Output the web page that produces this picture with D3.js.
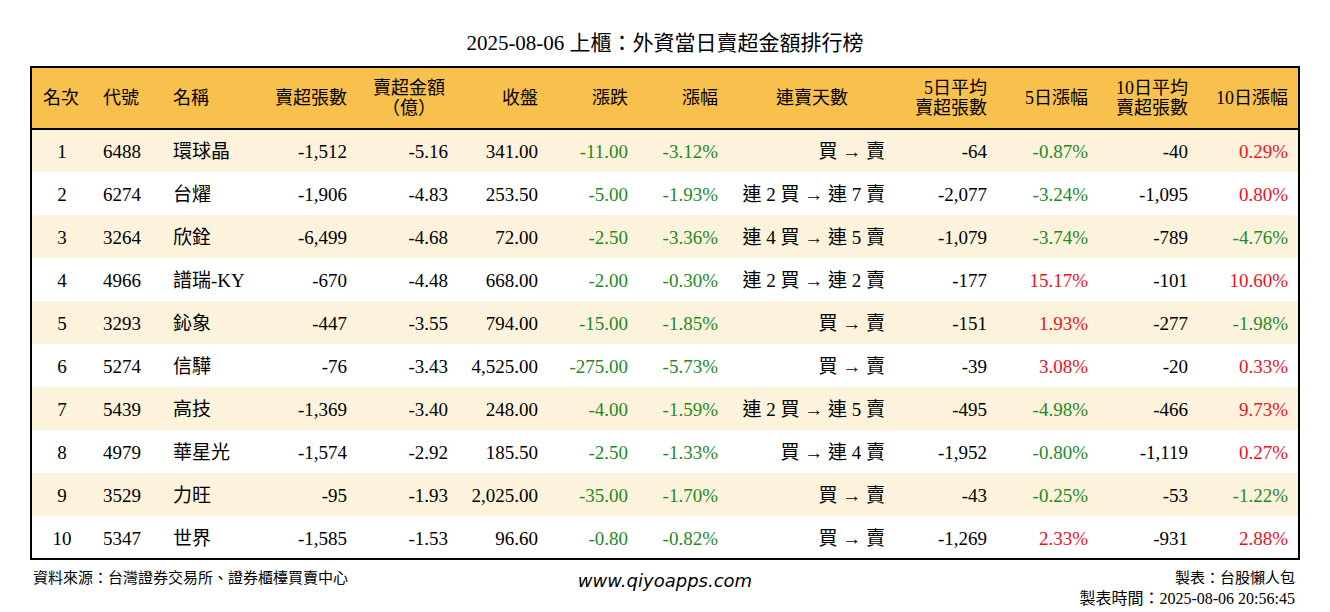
<!DOCTYPE html>
<html><head><meta charset="utf-8">
<script src="https://cdn.jsdelivr.net/npm/d3@7"></script>
<style>body{margin:0;background:#fff}</style></head>
<body><svg id="c" width="1330" height="612"></svg>
<script>
const title = "2025-08-06 上櫃：外資當日賣超金額排行榜";
const ranks = [1,2,3,4,5,6,7,8,9,10];
const codes = ["6488","6274","3264","4966","3293","5274","5439","4979","3529","5347"];
const names = ["環球晶","台燿","欣銓","譜瑞-KY","鈊象","信驊","高技","華星光","力旺","世界"];
const netLots = [-1512,-1906,-6499,-670,-447,-76,-1369,-1574,-95,-1585];
const netAmt = [-5.16,-4.83,-4.68,-4.48,-3.55,-3.43,-3.40,-2.92,-1.93,-1.53];
const closes = [341.00,253.50,72.00,668.00,794.00,4525.00,248.00,185.50,2025.00,96.60];
const changes = [-11.00,-5.00,-2.50,-2.00,-15.00,-275.00,-4.00,-2.50,-35.00,-0.80];
const pcts = [-3.12,-1.93,-3.36,-0.30,-1.85,-5.73,-1.59,-1.33,-1.70,-0.82];
const streaks = ["買 → 賣","連 2 買 → 連 7 賣","連 4 買 → 連 5 賣","連 2 買 → 連 2 賣","買 → 賣","買 → 賣","連 2 買 → 連 5 賣","買 → 連 4 賣","買 → 賣","買 → 賣"];
const avg5 = [-64,-2077,-1079,-177,-151,-39,-495,-1952,-43,-1269];
const pct5 = [-0.87,-3.24,-3.74,15.17,1.93,3.08,-4.98,-0.80,-0.25,2.33];
const avg10 = [-40,-1095,-789,-101,-277,-20,-466,-1119,-53,-931];
const pct10 = [0.29,0.80,-4.76,10.60,-1.98,0.33,9.73,0.27,-1.22,2.88];
const headers = [["名次"],["代號"],["名稱"],["賣超張數"],["賣超金額","（億）"],["收盤"],["漲跌"],["漲幅"],["連賣天數"],["5日平均","賣超張數"],["5日漲幅"],["10日平均","賣超張數"],["10日漲幅"]];

const svg = d3.select("#c");
const F = "'Liberation Serif','Noto Sans CJK TC',serif";
const green="#1f8a1f", red="#e8141e";
const fx = f => v => f(v).replace("\u2212","-");
const fmtI = fx(d3.format(",d")), fmt2 = fx(d3.format(",.2f"));
const pc = v => v.toFixed(2)+"%";
const col = v => v<0?green:(v>0?red:"#000");

const L=31,R=1299,T=67,H=62,B=559;
const y = d3.scaleBand().domain(ranks).range([T+H,B]);

svg.append("text").attr("x",665).attr("y",50).attr("text-anchor","middle")
  .attr("font-family",F).attr("font-size",21).text(title);
svg.append("rect").attr("x",L).attr("y",T).attr("width",R-L).attr("height",H).attr("fill","#F8C04C");
svg.selectAll(".bg").data(ranks).join("rect").attr("x",L).attr("y",d=>y(d)).attr("width",R-L)
  .attr("height",y.bandwidth()).attr("fill",(d,i)=>i%2==0?"#FDF3DC":"#fff");
svg.append("line").attr("x1",L).attr("x2",R).attr("y1",T+H).attr("y2",T+H).attr("stroke","#000").attr("stroke-width",2);
svg.append("rect").attr("x",L).attr("y",T).attr("width",R-L).attr("height",B-T).attr("fill","none").attr("stroke","#000").attr("stroke-width",2);

const cols = [
 [62,"middle",43,"start",i=>ranks[i]],
 [103,"start",103,"start",i=>codes[i]],
 [173,"start",173,"start",i=>names[i]],
 [347,"end",347,"end",i=>fmtI(netLots[i])],
 [448,"end",409,"middle",i=>netAmt[i].toFixed(2)],
 [538,"end",538,"end",i=>fmt2(closes[i])],
 [628,"end",628,"end",i=>changes[i].toFixed(2),i=>col(changes[i])],
 [718,"end",718,"end",i=>pc(pcts[i]),i=>col(pcts[i])],
 [885,"end",812,"middle",i=>streaks[i]],
 [987,"end",987,"end",i=>fmtI(avg5[i])],
 [1088,"end",1088,"end",i=>pc(pct5[i]),i=>col(pct5[i])],
 [1188,"end",1188,"end",i=>fmtI(avg10[i])],
 [1288,"end",1288,"end",i=>pc(pct10[i]),i=>col(pct10[i])]
];
cols.forEach((c,k)=>{
  const h=headers[k];
  const t=svg.append("text").attr("x",c[2]).attr("text-anchor",c[3]).attr("font-family",F).attr("font-size",18);
  if(h.length==1) t.attr("y",T+H/2+6).text(h[0]);
  else { t.append("tspan").attr("x",c[2]).attr("y",T+27).text(h[0]);
         t.append("tspan").attr("x",c[2]).attr("y",T+47).text(h[1]); }
  svg.selectAll(null).data(ranks).join("text").attr("x",c[0]).attr("y",(d,i)=>y(d)+y.bandwidth()/2+7)
    .attr("text-anchor",c[1]).attr("font-family",F).attr("font-size",19)
    .attr("fill",(d,i)=>c[5]?c[5](i):"#000").text((d,i)=>c[4](i));
});
svg.append("text").attr("x",33).attr("y",583).attr("font-family",F).attr("font-size",15).text("資料來源：台灣證券交易所、證券櫃檯買賣中心");
svg.append("text").attr("x",665).attr("y",587).attr("text-anchor","middle").attr("font-family","'DejaVu Sans',sans-serif").attr("font-style","italic").attr("font-size",18).text("www.qiyoapps.com");
svg.append("text").attr("x",1295).attr("y",583).attr("text-anchor","end").attr("font-family",F).attr("font-size",15).text("製表：台股懶人包");
svg.append("text").attr("x",1295).attr("y",604).attr("text-anchor","end").attr("font-family",F).attr("font-size",16).text("製表時間：2025-08-06 20:56:45");
</script></body></html>
